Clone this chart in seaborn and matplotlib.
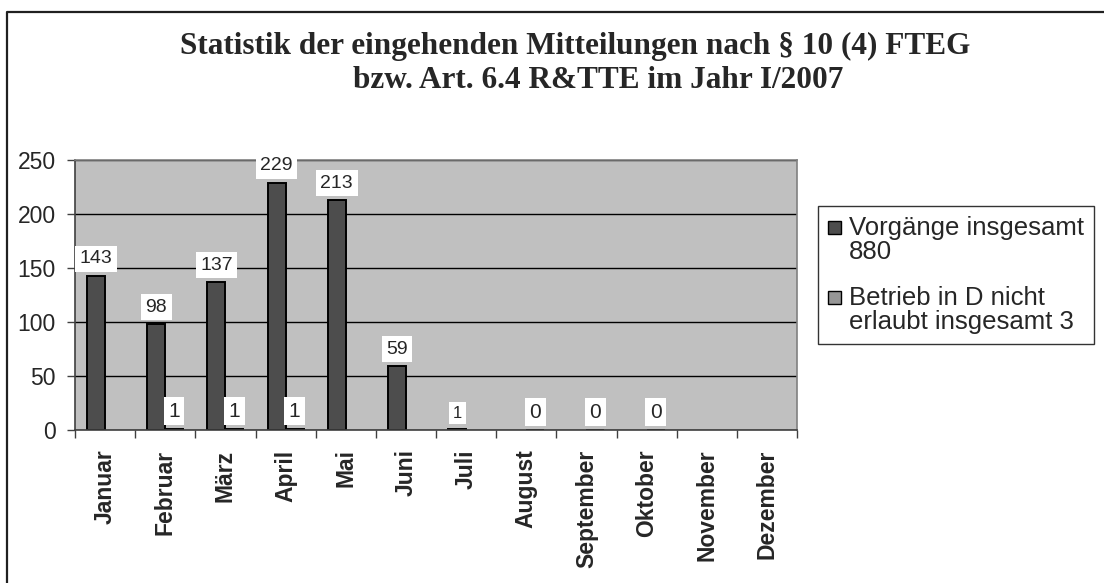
import numpy as np
import pandas as pd
import matplotlib
matplotlib.use("Agg")
import matplotlib.pyplot as plt
import seaborn as sns
from matplotlib.patches import Patch
from matplotlib.lines import Line2D

nan = np.nan
months = ["Januar", "Februar", "März", "April", "Mai", "Juni", "Juli",
          "August", "September", "Oktober", "November", "Dezember"]
vorgaenge = [143, 98, 137, 229, 213, 59, 1, nan, nan, nan, nan, nan]
nicht_erlaubt = [nan, 1, 1, 1, nan, nan, nan, 0, 0, 0, nan, nan]
series_names = ["Vorgänge insgesamt\n880", "Betrieb in D nicht\nerlaubt insgesamt 3"]
series_colors = ["#4D4D4D", "#969696"]
title_line1 = "Statistik der eingehenden Mitteilungen nach § 10 (4) FTEG"
title_line2 = "bzw. Art. 6.4 R&TTE im Jahr I/2007"
yticks = [0, 50, 100, 150, 200, 250]

sns.set_theme(style="white")
plt.rcParams["font.family"] = ["Liberation Sans", "DejaVu Sans"]

df = pd.DataFrame({
    "Monat": months * 2,
    "Wert": vorgaenge + nicht_erlaubt,
    "Serie": [series_names[0]] * 12 + [series_names[1]] * 12,
})

W, H = 1104, 583
fig = plt.figure(figsize=(W / 100, H / 100), dpi=100)
fig.patch.set_facecolor("white")
ax = fig.add_axes([75 / W, 1 - 430 / H, (797 - 75) / W, (430 - 160) / H])
ax.set_facecolor("#C0C0C0")

sns.barplot(data=df, x="Monat", y="Wert", hue="Serie", order=months,
            hue_order=series_names, palette=series_colors, saturation=1,
            edgecolor="black", linewidth=1.4, width=0.6, gap=0,
            errorbar=None, legend=False, ax=ax)

ax.set_xlim(-0.5, len(months) - 0.5)
ax.set_ylim(0, 250)
ax.set_yticks(yticks)
ax.yaxis.grid(True, color="black", linewidth=1)
ax.xaxis.grid(False)
ax.set_axisbelow(True)
ax.set_xlabel("")
ax.set_ylabel("")

ax.tick_params(axis="y", left=True, direction="out", length=6, width=1,
               color="#404040", pad=8, labelsize=16.5)
ax.set_xticks(range(len(months)))
ax.set_xticklabels(months, rotation=90, fontweight="bold", fontsize=16.5,
                   va="top", ha="center")
ax.tick_params(axis="x", which="major", bottom=True, length=0, pad=14)
ax.set_xticks(np.arange(-0.5, len(months)), minor=True)
ax.tick_params(axis="x", which="minor", bottom=True, direction="out",
               length=6, width=1, color="#404040")

for side in ["left", "bottom"]:
    ax.spines[side].set_color("#404040")
    ax.spines[side].set_linewidth(1.2)
for side in ["top", "right"]:
    ax.spines[side].set_color("#808080")
    ax.spines[side].set_linewidth(1.2)

label_sizes = [14, 15]
for i, cont in enumerate(ax.containers):
    labels = []
    for bar in cont:
        h = bar.get_height()
        labels.append("" if np.isnan(h) else f"{int(round(h))}")
    texts = ax.bar_label(cont, labels=labels, padding=6,
                         fontsize=label_sizes[i],
                         bbox=dict(facecolor="white", edgecolor="none", pad=3.2))
    for t, lab, bar in zip(texts, labels, cont):
        if i == 0 and bar.get_height() < 5:
            t.set_fontsize(12)

handles = [Patch(facecolor=c, edgecolor="black", linewidth=1) for c in series_colors]
leg_fs = 18.5
leg = fig.legend(handles, series_names, loc="upper left",
                 bbox_to_anchor=(818 / W, 1 - 206 / H), frameon=True,
                 fancybox=False, edgecolor="black", fontsize=leg_fs,
                 handlelength=0.5, handleheight=0.4, handletextpad=0.3,
                 borderpad=0.4, labelspacing=0.85, borderaxespad=0)
leg.get_frame().set_linewidth(1)
leg.get_frame().set_facecolor("white")
for t in leg.get_texts():
    t.set_linespacing(1.0)
# align square handles with the first line of each two-line label
for hnd in leg.legend_handles:
    hnd.set_y(hnd.get_y() + 0.5 * leg_fs)

fig.text(575 / W, 1 - 46 / H, title_line1, ha="center", va="center",
         family="Liberation Serif", fontweight="bold", fontsize=22.5)
fig.text(598 / W, 1 - 81 / H, title_line2, ha="center", va="center",
         family="Liberation Serif", fontweight="bold", fontsize=22.5)

fig.add_artist(Line2D([7 / W, 7 / W, 1.0], [0, 1 - 12 / H, 1 - 12 / H],
                      transform=fig.transFigure, color="#202020", linewidth=1.6))

fig.savefig("out.png", dpi=100, facecolor="white")
